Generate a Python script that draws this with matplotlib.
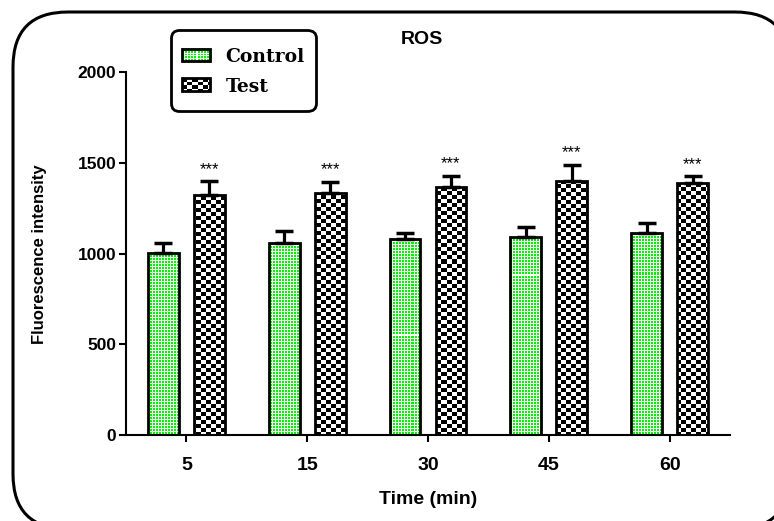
import numpy as np
import matplotlib
matplotlib.use("Agg")
import matplotlib.pyplot as plt
from matplotlib.patches import Patch, Rectangle, FancyBboxPatch
from matplotlib.image import BboxImage
from matplotlib.transforms import Bbox, TransformedBbox

plt.rcParams["font.family"] = ["Liberation Sans", "DejaVu Sans"]

# data
time_labels = ["5", "15", "30", "45", "60"]
control_mean = [1002, 1056, 1080, 1093, 1115]
control_sem = [55, 68, 35, 51, 55]
test_mean = [1322, 1335, 1368, 1399, 1390]
test_sem = [77, 61, 61, 90, 37]
test_marks = ["***", "***", "***", "***", "***"]

GREEN = np.array([0, 240, 0], dtype=np.uint8)


def dots_pattern(h, w):
    yy, xx = np.mgrid[0:h, 0:w]
    img = np.full((h, w, 3), 255, dtype=np.uint8)
    on = (xx % 3 < 2) & (yy % 3 < 2)
    img[on] = GREEN
    return img


def checker_pattern(h, w):
    yy, xx = np.mgrid[0:h, 0:w]
    img = np.full((h, w, 3), 255, dtype=np.uint8)
    on = ((xx // 5) + (yy // 4)) % 2 == 0
    img[on] = 0
    return img


class PatternHandler:
    # legend swatch centred on the label text, baseline is y=0
    def __init__(self, maker):
        self.maker = maker

    def legend_artist(self, legend, orig_handle, fontsize, handlebox):
        w = handlebox.width
        h = 0.68 * fontsize
        x0 = -handlebox.xdescent
        y0 = 0.36 * fontsize - h / 2
        trans = handlebox.get_transform()
        bb = TransformedBbox(Bbox.from_bounds(x0, y0, w, h), trans)
        img = BboxImage(bb, interpolation="nearest")
        img.set_data(self.maker(14, 28))
        handlebox.add_artist(img)
        rect = Rectangle((x0, y0), w, h, fill=False, edgecolor="black",
                         linewidth=2, transform=trans)
        handlebox.add_artist(rect)
        return rect


fig = plt.figure(figsize=(7.74, 5.21), dpi=100)
ax = fig.add_axes([126 / 774, 1 - 435 / 521, 604 / 774, 363 / 521])
ax.patch.set_visible(False)

x = np.arange(len(time_labels))
offset = 0.19
width = 0.255

ax.set_xlim(-0.5, 4.5)
ax.set_ylim(0, 2000)

ctrl_bars = ax.bar(x - offset, control_mean, width, fill=False,
                   edgecolor="black", linewidth=2, zorder=3)
test_bars = ax.bar(x + offset, test_mean, width, fill=False,
                   edgecolor="black", linewidth=2, zorder=3)

H, W = 363, 604
for bars, maker in [(ctrl_bars, dots_pattern), (test_bars, checker_pattern)]:
    pat = maker(H, W)
    for b in bars:
        im = ax.imshow(pat, extent=(-0.5, 4.5, 0, 2000), aspect="auto",
                       interpolation="nearest", origin="upper", zorder=2)
        im.set_clip_path(b)

ax.errorbar(x - offset, control_mean, yerr=[np.zeros(5), control_sem],
            fmt="none", ecolor="black", elinewidth=2.3, capsize=6.7,
            capthick=2.5, zorder=4)
ax.errorbar(x + offset, test_mean, yerr=[np.zeros(5), test_sem],
            fmt="none", ecolor="black", elinewidth=2.3, capsize=6.7,
            capthick=2.5, zorder=4)

for xi, m, e, s in zip(x + offset, test_mean, test_sem, test_marks):
    ax.annotate(s, (xi, m + e), xytext=(0, 3), textcoords="offset points",
                ha="center", va="bottom", fontsize=12)

ax.set_xlim(-0.5, 4.5)
ax.set_ylim(0, 2000)
ax.set_xticks(x)
ax.set_xticklabels(time_labels, fontsize=14, fontweight="bold")
ax.set_yticks([0, 500, 1000, 1500, 2000])
ax.set_yticklabels(["0", "500", "1000", "1500", "2000"], fontsize=12.5,
                   fontweight="bold")
ax.tick_params(axis="x", length=5, width=1.5, pad=11)
ax.tick_params(axis="y", length=5, width=1.5, pad=2)
for side in ["top", "right"]:
    ax.spines[side].set_visible(False)
for side in ["left", "bottom"]:
    ax.spines[side].set_linewidth(1.5)

fig.text(40 / 774, 1 - 254 / 521, "Fluorescence intensity", rotation=90,
         ha="center", va="center", fontsize=12, fontweight="bold")
fig.text(428 / 774, 1 - 500 / 521, "Time (min)", ha="center", va="center",
         fontsize=14, fontweight="bold")
fig.text(422 / 774, 1 - 39 / 521, "ROS", ha="center", va="center",
         fontsize=14, fontweight="bold")

handles = [Patch(label="Control"), Patch(label="Test")]
leg = ax.legend(handles=handles,
                handler_map={handles[0]: PatternHandler(dots_pattern),
                             handles[1]: PatternHandler(checker_pattern)},
                loc="upper left", bbox_to_anchor=(171 / 774, 1 - 30 / 521),
                bbox_transform=fig.transFigure, borderaxespad=0,
                prop={"family": "DejaVu Serif", "weight": "bold",
                      "size": 13.5},
                handlelength=1.5, handleheight=2.0, handletextpad=0.8,
                labelspacing=0.05, borderpad=0.6, fancybox=True,
                framealpha=1, edgecolor="black")
leg.get_frame().set_linewidth(2)
leg.get_frame().set_boxstyle("round,pad=0,rounding_size=0.45")

# outer rounded frame; filled so agg does not clip its curved corners
frame = FancyBboxPatch((0.13, -0.08), 7.77, 5.17,
                       boxstyle="round,pad=0,rounding_size=0.55",
                       transform=fig.dpi_scale_trans, facecolor="white",
                       edgecolor="black", linewidth=2.2, zorder=-1)
fig.add_artist(frame)

fig.savefig("out.png", dpi=100)
